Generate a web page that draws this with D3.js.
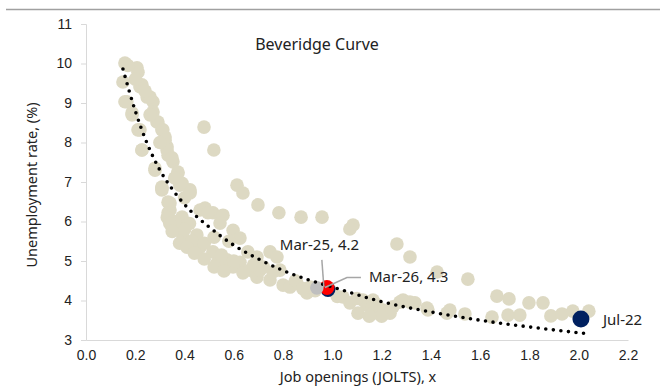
<!DOCTYPE html>
<html>
<head>
<meta charset="utf-8">
<script src="https://cdn.jsdelivr.net/npm/d3@7"></script>
<style>
  body { margin: 0; background: #fff; }
  svg { display: block; font-family: "Noto Sans", "Open Sans", sans-serif; }
</style>
</head>
<body>
<div id="chart"></div>
<script>
// job openings per unemployed (x) vs unemployment rate (y), monthly history
const openings = [
  0.158, 0.207, 0.211, 0.150, 0.227, 0.166, 0.248, 0.272, 0.187, 0.272, 0.288, 0.211, 0.308, 0.321,
  0.227, 0.329, 0.333, 0.353, 0.280, 0.373, 0.381, 0.308, 0.422, 0.219, 0.260, 0.292, 0.312, 0.321,
  0.329, 0.349, 0.373, 0.390, 0.422, 0.333, 0.483, 0.515, 0.556, 0.158, 0.187, 0.219, 0.227, 0.280,
  0.308, 0.341, 0.170, 0.200, 0.240,
  0.479, 0.519, 0.613, 0.637, 0.698, 0.783, 0.873, 0.958, 1.084, 1.071,
  1.262, 1.315, 1.425, 1.550, 1.668, 1.717, 1.798, 1.855, 1.887, 1.932, 1.976, 2.041, 1.761, 1.713,
  1.648, 1.538, 1.477, 1.388, 1.335, 1.274, 1.165, 1.205, 1.140,
  0.308, 0.381, 0.422, 0.341, 0.333, 0.390, 0.463, 0.495, 0.369, 0.394, 0.450, 0.544, 0.597, 0.625,
  0.463, 0.515, 0.572, 0.625, 0.532, 0.657, 0.694, 0.747, 0.775, 0.787, 0.666, 0.694, 0.747, 0.800,
  0.856, 0.909, 0.990, 1.043, 1.071, 0.597, 0.637, 0.706, 0.759, 0.828, 0.897,
  0.420, 0.430, 0.480, 0.400, 0.360, 0.550, 0.580, 0.520, 0.600, 0.680, 0.720, 0.850, 0.930, 0.880,
  1.124, 1.161, 1.205, 1.246, 1.287, 1.315, 1.384, 1.465, 1.234, 1.165, 1.104, 1.020, 1.100, 1.180,
  1.200, 1.150,
  0.330, 0.340, 0.350, 0.380, 0.410, 0.440, 0.480, 0.520, 0.560, 0.260, 0.300, 0.360, 0.400
];
const unemployment = [
  10.01, 9.89, 9.78, 9.53, 9.46, 9.03, 9.15, 9.03, 8.75, 8.77, 8.52, 8.32, 8.32, 8.14,
  7.81, 7.89, 7.68, 7.51, 7.30, 7.23, 6.97, 6.87, 6.80, 9.41, 9.15, 8.52, 8.32, 8.06,
  7.81, 7.61, 7.25, 6.97, 6.75, 6.49, 6.34, 6.22, 6.16, 9.03, 8.70, 8.32, 7.81, 7.35,
  6.80, 6.29, 9.95, 9.60, 9.30,
  8.39, 7.81, 6.92, 6.72, 6.42, 6.22, 6.11, 6.11, 5.91, 5.81,
  5.43, 5.10, 4.72, 4.54, 4.11, 4.04, 3.94, 3.94, 3.61, 3.66, 3.73, 3.73, 3.63, 3.63,
  3.58, 3.66, 3.76, 3.76, 3.94, 3.96, 4.01, 3.71, 3.89,
  6.85, 6.92, 6.72, 6.47, 6.22, 6.11, 6.29, 6.22, 5.86, 5.61, 5.66, 5.96, 5.78, 5.58,
  5.35, 5.23, 5.03, 4.97, 4.95, 5.23, 5.10, 5.23, 5.10, 4.77, 4.77, 4.59, 4.52, 4.39,
  4.44, 4.34, 4.27, 4.09, 3.94, 4.85, 4.70, 4.77, 4.72, 4.34, 4.19,
  5.95, 5.50, 5.45, 5.80, 6.00, 5.15, 5.50, 5.60, 5.00, 4.90, 4.85, 4.50, 4.25, 4.30,
  4.01, 3.84, 3.76, 3.84, 4.01, 3.96, 3.81, 3.68, 3.68, 3.68, 3.68, 4.10, 4.05, 3.90,
  3.60, 3.60,
  6.10, 5.95, 5.75, 5.45, 5.35, 5.20, 5.05, 4.85, 4.75, 8.70, 8.00, 7.10, 6.60
];

// trendline
const trendX = [0.15, 0.20, 0.25, 0.30, 0.35, 0.40, 0.50, 0.60, 0.70, 0.80, 0.90, 1.00, 1.20, 1.40, 1.60, 1.80, 2.02];
const trendY = [9.86, 8.80, 7.95, 7.30, 6.82, 6.43, 5.86, 5.40, 5.05, 4.76, 4.53, 4.34, 3.97, 3.71, 3.50, 3.33, 3.17];

// highlighted months
const mar25 = { label: "Mar-25, 4.2", x: 0.937, y: 4.32 };
const mar26 = { label: "Mar-26, 4.3", x: 0.978, y: 4.33 };
const prior = { x: 0.982, y: 4.28 };
const jul22 = { label: "Jul-22", x: 2.009, y: 3.53 };

const xTicks = [0, 0.2, 0.4, 0.6, 0.8, 1.0, 1.2, 1.4, 1.6, 1.8, 2.0, 2.2];
const yTicks = [3, 4, 5, 6, 7, 8, 9, 10, 11];

const width = 660, height = 387;
const svg = d3.select("#chart").append("svg")
  .attr("width", width)
  .attr("height", height);

svg.append("rect").attr("width", width).attr("height", height).attr("fill", "#fff");

// top rule
svg.append("line")
  .attr("x1", 6).attr("x2", width).attr("y1", 9.5).attr("y2", 9.5)
  .attr("stroke", "#a0a0a0").attr("stroke-width", 1.5);

const x = d3.scaleLinear().domain([0, 2.2]).range([86, 628]);
const y = d3.scaleLinear().domain([3, 11]).range([340, 24]);

// y axis
const yAxis = svg.append("g")
  .attr("transform", `translate(${x(0)},0)`)
  .call(d3.axisLeft(y).tickValues(yTicks).tickFormat(d3.format("d")).tickSize(5).tickPadding(9));
yAxis.select(".domain").attr("stroke", "#d9d9d9");
yAxis.selectAll(".tick line").attr("stroke", "#d9d9d9");
yAxis.selectAll("text").attr("fill", "#222").style("font-size", "14px");

// x axis
const xAxis = svg.append("g")
  .attr("transform", `translate(0,${y(3)})`)
  .call(d3.axisBottom(x).tickValues(xTicks).tickFormat(d3.format(".1f")).tickSize(0).tickPadding(10));
xAxis.select(".domain").attr("stroke", "#d9d9d9");
xAxis.selectAll("text").attr("fill", "#222").style("font-size", "14px");

// scatter
const pts = openings.map((v, i) => [v, unemployment[i]]);
svg.append("g").selectAll("circle")
  .data(pts)
  .enter()
  .append("circle")
  .attr("cx", d => x(d[0]))
  .attr("cy", d => y(d[1]))
  .attr("r", 6.8)
  .attr("fill", "#ddd9c3");

// highlighted points
svg.append("circle").attr("cx", x(prior.x)).attr("cy", y(prior.y)).attr("r", 7.5).attr("fill", "#002060");
svg.append("circle").attr("cx", x(mar26.x)).attr("cy", y(mar26.y)).attr("r", 7.5).attr("fill", "#ff0000");
svg.append("circle").attr("cx", x(mar25.x)).attr("cy", y(mar25.y)).attr("r", 6.8).attr("fill", "#bfbfbf");
svg.append("circle").attr("cx", x(jul22.x)).attr("cy", y(jul22.y)).attr("r", 8.5).attr("fill", "#002060");

// dotted trendline
const trend = trendX.map((v, i) => [v, trendY[i]]);
svg.append("path")
  .datum(trend)
  .attr("fill", "none")
  .attr("stroke", "#000")
  .attr("stroke-width", 3.6)
  .attr("stroke-linecap", "round")
  .attr("stroke-dasharray", "0 7.6")
  .attr("d", d3.line().x(d => x(d[0])).y(d => y(d[1])).curve(d3.curveMonotoneX));

// leader lines
const lead = svg.append("g").attr("stroke", "#a6a6a6").attr("stroke-width", 1.5).attr("fill", "none");
lead.append("path")
  .attr("d", `M${x(mar25.x) + 5},${y(mar25.y) - 28} L${x(mar25.x) + 7},${y(mar25.y) - 1}`);
lead.append("path")
  .attr("d", `M${x(mar26.x) + 34},${y(mar26.y) - 10} L${x(mar26.x) + 20},${y(mar26.y) - 10} L${x(mar26.x) - 2},${y(mar26.y)}`);

// labels
const lab = svg.append("g").attr("fill", "#222").style("font-size", "15px");
lab.append("text").attr("x", x(mar25.x) - 37).attr("y", y(mar25.y) - 38).text(mar25.label);
lab.append("text").attr("x", x(mar26.x) + 42).attr("y", y(mar26.y) - 5).text(mar26.label);
lab.append("text").attr("x", x(jul22.x) + 22).attr("y", y(jul22.y) + 6).text(jul22.label);

// titles
svg.append("text")
  .attr("x", 317).attr("y", 50)
  .attr("text-anchor", "middle")
  .attr("fill", "#222")
  .style("font-size", "16px")
  .text("Beveridge Curve");

svg.append("text")
  .attr("transform", "translate(37,185) rotate(-90)")
  .attr("text-anchor", "middle")
  .attr("fill", "#222")
  .style("font-size", "14.5px")
  .text("Unemployment rate, (%)");

svg.append("text")
  .attr("x", 358).attr("y", 382)
  .attr("text-anchor", "middle")
  .attr("fill", "#222")
  .style("font-size", "14.5px")
  .text("Job openings (JOLTS), x");
</script>
</body>
</html>
